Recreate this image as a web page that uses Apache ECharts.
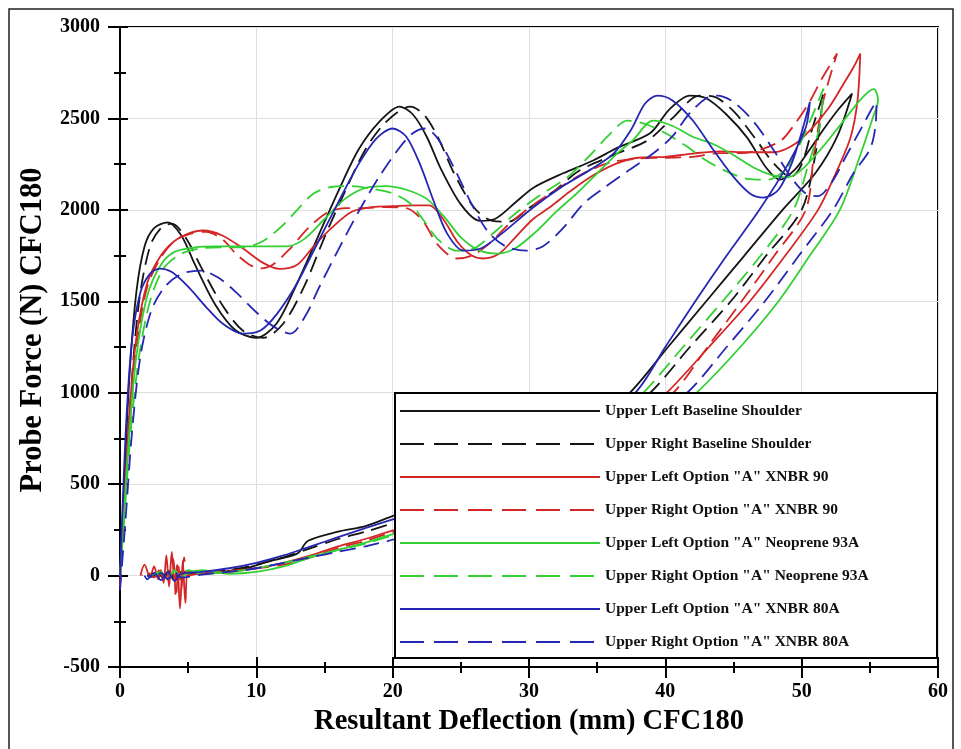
<!DOCTYPE html>
<html><head><meta charset="utf-8">
<script src="https://cdn.jsdelivr.net/npm/echarts@6/dist/echarts.min.js"></script>
<style>html,body{margin:0;padding:0;background:#fff}#c{width:961px;height:749px}</style>
</head><body><div id="c"></div>
<script>
// ---- data (deflection mm, force N) ----
const seriesNames = [
  'Upper Left Baseline Shoulder',
  'Upper Right Baseline Shoulder',
  'Upper Left Option "A" XNBR 90',
  'Upper Right Option "A" XNBR 90',
  'Upper Left Option "A" Neoprene 93A',
  'Upper Right Option "A" Neoprene 93A',
  'Upper Left Option "A" XNBR 80A',
  'Upper Right Option "A" XNBR 80A'
];
const xRange = [0, 60, 10];
const yRange = [-500, 3000, 500];

const ulBaseline = [[0,0],[0.3,500],[0.7,1100],[1.2,1550],[1.8,1800],[2.5,1900],[3.5,1932],[4.5,1860],[5.5,1700],[7,1480],[8.5,1340],[10,1300],[11.5,1380],[13,1600],[14.5,1850],[16,2100],[17.5,2330],[19,2480],[20.5,2565],[21.5,2520],[22.5,2400],[23.5,2230],[25,2030],[26.4,1940],[27.5,1950],[29,2040],[30.3,2120],[32.5,2200],[34.7,2270],[36.5,2340],[38.9,2420],[40.3,2550],[41.8,2625],[43,2610],[44.5,2520],[46,2395],[47.4,2230],[48.4,2165],[49.5,2220],[50.5,2320],[51.7,2450],[52.7,2550],[53.7,2636],[52.6,2400],[51,2200],[48.6,2000],[45.8,1750],[43,1500],[40.2,1250],[37.4,1000],[34,780],[30,600],[26,470],[23,390],[20.2,330],[18,270],[16,240],[13.8,190],[13,120],[11,80],[9.5,45],[8,25],[6,10],[4.5,20],[4,-10],[3.6,25],[3.2,-15],[2.8,10],[2.4,-5],[2,0]];

const urBaseline = [[0,0],[0.3,400],[0.8,1000],[1.4,1500],[2.2,1800],[3,1900],[3.8,1925],[4.8,1850],[6,1680],[7.5,1480],[9,1340],[10.5,1300],[12,1380],[13.5,1580],[15,1850],[16.5,2100],[18,2330],[19.5,2480],[21.3,2565],[22.3,2520],[23.3,2400],[24.5,2200],[26,2010],[27.3,1940],[28.5,1935],[30,2010],[31.8,2100],[33.7,2215],[36.2,2300],[38.7,2380],[40.5,2500],[42.5,2625],[43.5,2620],[45,2540],[46.5,2400],[48,2250],[49.2,2180],[50,2250],[50.8,2450],[51.6,2636],[51,2300],[50,2000],[47.4,1750],[44.8,1500],[41.8,1250],[38.9,1000],[35,760],[31,580],[27,450],[23.5,360],[20.2,290],[18,240],[16,200],[14,150],[12,100],[10,60],[8,30],[6,15],[4.5,5],[4,-20],[3.5,15],[3,-10],[2.5,10],[2,0]];

const ulXnbr90 = [[0,0],[0.3,400],[0.7,900],[1.2,1300],[2,1600],[3,1750],[4,1830],[5,1870],[6.1,1887],[7.5,1860],[9,1790],[10.5,1710],[11.7,1677],[13,1700],[14.2,1800],[15.5,1900],[17,1990],[18.5,2015],[20,2020],[21.5,2025],[22.7,2024],[23.7,1950],[24.8,1820],[25.8,1750],[26.6,1734],[27.8,1760],[29,1850],[30.3,1950],[31.5,2013],[33,2100],[34.5,2180],[36.4,2253],[38,2285],[40,2290],[42,2308],[44,2320],[46,2315],[48,2315],[49.5,2360],[50.8,2450],[52,2560],[53,2680],[53.8,2780],[54.3,2855],[54.1,2600],[53.6,2400],[52.5,2200],[51.2,2000],[48.8,1750],[46.2,1500],[43.2,1250],[40.1,1000],[36,740],[32,560],[28,420],[24,310],[20.2,250],[18,200],[16,160],[14,110],[12,70],[10,40],[8,20],[6,10],[5,20],[4.8,-150],[4.6,80],[4.4,-180],[4.2,60],[4,-30],[3.8,130],[3.6,-60],[3.4,110],[3.2,-40],[3,30],[2.8,-20],[2.5,50],[2.2,-10],[1.8,60],[1.5,0]];

const urXnbr90 = [[0,-60],[0.3,350],[0.8,900],[1.3,1300],[2,1580],[3,1740],[4,1830],[5.2,1870],[6.3,1880],[7.5,1840],[8.5,1760],[9.5,1700],[10.3,1680],[11.2,1700],[12.5,1790],[13.8,1900],[15.2,1985],[16.5,2010],[18,2010],[19.5,2015],[21,2010],[22.2,1941],[23.3,1810],[24.7,1734],[25.8,1750],[27,1810],[28.5,1920],[30,2010],[32,2110],[34,2200],[36,2260],[38,2280],[40,2285],[42,2290],[44,2310],[45.5,2310],[47,2330],[48.5,2380],[49.5,2470],[50.5,2580],[51.5,2720],[52.6,2855],[51.6,2600],[50.9,2300],[50.3,2000],[48,1750],[45.6,1500],[43.1,1250],[40.6,1000],[36.5,730],[32.5,550],[28.5,410],[24.5,300],[20.2,240],[18,190],[16,150],[14,100],[12,60],[10,40],[8,25],[6,15],[5,0],[4.7,100],[4.5,-80],[4.3,50],[4.1,-120],[3.9,90],[3.5,-20],[3,40],[2.5,-10],[2,20],[1.6,0]];

const ulNeoprene = [[0,0],[0.3,350],[0.7,800],[1.2,1200],[2,1530],[3,1700],[4,1770],[5.5,1795],[7,1800],[9,1800],[10.5,1800],[12.2,1800],[13.5,1840],[15,1950],[16.5,2060],[18,2120],[19.5,2130],[21,2110],[22.5,2060],[23.8,1960],[25,1850],[26.3,1780],[27.7,1761],[29,1790],[30.5,1880],[32,1990],[33.5,2090],[35,2200],[36.5,2310],[37.6,2379],[39.1,2488],[40.5,2460],[42,2400],[43.5,2360],[45,2300],[46.5,2230],[47.8,2190],[48.9,2177],[50,2220],[51.5,2340],[53,2480],[54.4,2610],[55.3,2660],[55.6,2600],[55.2,2500],[54.3,2300],[52.8,2000],[50.6,1750],[48.3,1500],[45.5,1250],[42.3,1000],[38,720],[34,540],[30,400],[25,290],[20.2,230],[18,180],[16,140],[14,100],[12,50],[10,20],[8,10],[6,30],[5,15],[4.5,-10],[4,30],[3.5,-20],[3,20],[2.5,10],[2.2,0]];

const urNeoprene = [[0,0],[0.3,300],[0.8,800],[1.4,1200],[2.2,1500],[3.2,1680],[4.5,1760],[6,1790],[7.5,1795],[9,1795],[10.5,1830],[12,1920],[13,2000],[14.2,2089],[15.5,2125],[17,2130],[18.5,2115],[20,2090],[21.2,2040],[22.2,1950],[23.3,1840],[24.7,1777],[26,1790],[27.5,1880],[29,1980],[30.8,2080],[32.8,2177],[34.5,2300],[36,2420],[37.2,2488],[38.5,2470],[40,2420],[41.5,2350],[43,2270],[44.5,2210],[46,2170],[47.5,2165],[48.8,2220],[49.8,2350],[50.7,2500],[51.6,2663],[51.3,2450],[50.5,2250],[49.4,2000],[47,1750],[44.2,1500],[41.3,1250],[38.4,1000],[35,760],[31,560],[27,420],[23.5,300],[20.2,225],[18,175],[16,140],[14,105],[12,70],[10,40],[8,20],[6,10],[5,30],[4.5,-10],[4,25],[3.5,-15],[3,15],[2.6,0]];

const ulXnbr80 = [[0,0],[0.2,400],[0.5,900],[0.9,1300],[1.5,1550],[2.2,1650],[2.9,1679],[3.8,1660],[5,1580],[6.3,1470],[7.5,1380],[9,1323],[10.3,1340],[11.5,1430],[13,1600],[14.5,1820],[16,2040],[17.5,2250],[18.8,2390],[20,2445],[21,2400],[22,2250],[23,2050],[24,1870],[25.2,1777],[26.5,1790],[28,1870],[30.3,2013],[32.5,2130],[34.5,2220],[36.2,2308],[37.5,2440],[38.5,2580],[39.4,2625],[40.5,2600],[42,2490],[43.5,2330],[45,2180],[46.2,2090],[47.2,2067],[48.3,2110],[49.3,2260],[50.1,2450],[50.6,2590],[50.3,2450],[49,2250],[46.9,2000],[44.5,1750],[42.2,1500],[40,1250],[37.8,1000],[34,790],[30,610],[26,460],[23,370],[20.2,312],[18,260],[16,210],[14,160],[12,110],[10,70],[8,40],[6,20],[4.5,10],[4,-30],[3.5,20],[3,-25],[2.5,15],[2,-20],[1.8,0]];

const urXnbr80 = [[0,-80],[0.4,300],[0.9,800],[1.5,1200],[2.3,1450],[3.3,1580],[4.5,1650],[5.9,1668],[7.2,1630],[8.5,1550],[10,1440],[11.3,1360],[12.5,1323],[13.7,1433],[14.5,1560],[16,1780],[17.5,1990],[19,2180],[20.5,2340],[21.5,2420],[22.4,2445],[23.3,2390],[24.5,2230],[25.8,2030],[27,1880],[28.3,1800],[29.8,1777],[31,1800],[32.5,1900],[34,2034],[35.5,2120],[37.2,2210],[39.1,2308],[40.5,2400],[41.8,2530],[43,2610],[43.8,2625],[45,2590],[46.5,2480],[48,2320],[49.3,2170],[50.3,2090],[51.2,2075],[52.2,2150],[53.3,2300],[54.4,2450],[55.2,2560],[55.5,2590],[55.4,2450],[55,2330],[53.8,2200],[52.3,2000],[49.8,1750],[47.3,1500],[44.5,1250],[41.6,1000],[37,740],[33,560],[28,400],[24,290],[20.2,200],[18,160],[16,130],[14,100],[12,70],[10,40],[8,20],[6,5],[4.5,-10],[4,20],[3.5,-20],[3,15],[2.5,-10],[2,0]];

const seriesData = [ulBaseline, urBaseline, ulXnbr90, urXnbr90, ulNeoprene, urNeoprene, ulXnbr80, urXnbr80];

// ---- styling ----
const FONT = '"Liberation Serif","Times New Roman",serif';
const colors = ['#151515','#151515','#d42626','#d42626','#33d033','#33d033','#2626b4','#2626b4'];
const dashedFlags = [false,true,false,true,false,true,false,true];
const plotDash = [16, 8];
const legendDash = [24, 10];

const chart = echarts.init(document.getElementById('c'), null, {renderer:'canvas'});

const tickStyle = {color:'#000', width:2};
const plainNum = v => String(v);
function mainX() {
  return {
    type:'value', min:xRange[0], max:xRange[1], interval:xRange[2], position:'bottom',
    axisLine:{show:true, onZero:false, lineStyle:{color:'#000', width:2}},
    axisTick:{show:true, length:11, lineStyle:tickStyle},
    minorTick:{show:true, splitNumber:2, length:6, lineStyle:tickStyle},
    splitLine:{show:true, lineStyle:{color:'#dedede', width:1}},
    axisLabel:{color:'#000', fontFamily:FONT, fontWeight:'bold', fontSize:20, margin:15, formatter:plainNum},
    name:'Resultant Deflection (mm) CFC180', nameLocation:'middle', nameGap:32,
    nameTextStyle:{color:'#000', fontFamily:FONT, fontWeight:'bold', fontSize:28.5}
  };
}
function innerX() {
  return {
    type:'value', min:xRange[0], max:xRange[1], interval:xRange[2], position:'bottom',
    axisLine:{show:false, onZero:false},
    axisTick:{show:true, inside:true, length:10, lineStyle:tickStyle},
    minorTick:{show:true, splitNumber:2, length:5, lineStyle:tickStyle},
    splitLine:{show:false}, axisLabel:{show:false}
  };
}
function mainY() {
  return {
    type:'value', min:yRange[0], max:yRange[1], interval:yRange[2], position:'left',
    axisLine:{show:true, onZero:false, lineStyle:{color:'#000', width:2}},
    axisTick:{show:true, length:12, lineStyle:tickStyle},
    minorTick:{show:true, splitNumber:2, length:6, lineStyle:tickStyle},
    splitLine:{show:true, lineStyle:{color:'#dedede', width:1}},
    axisLabel:{color:'#000', fontFamily:FONT, fontWeight:'bold', fontSize:20, margin:20, formatter:plainNum},
    name:'Probe Force (N) CFC180', nameLocation:'middle', nameGap:60,
    nameTextStyle:{color:'#000', fontFamily:FONT, fontWeight:'bold', fontSize:30.5, padding:[0,0,0,34]}
  };
}
function innerY() {
  return {
    type:'value', min:yRange[0], max:yRange[1], interval:yRange[2], position:'left',
    axisLine:{show:false, onZero:false},
    axisTick:{show:true, inside:true, length:8, lineStyle:tickStyle},
    minorTick:{show:true, splitNumber:2, length:6, lineStyle:tickStyle},
    splitLine:{show:false}, axisLabel:{show:false}
  };
}

const option = {
  backgroundColor:'#fff',
  animation:false,
  grid:{left:120, right:23, top:27, bottom:82, show:true, borderColor:'#000', borderWidth:2, backgroundColor:'rgba(0,0,0,0)'},
  xAxis:[mainX(), innerX()],
  yAxis:[mainY(), innerY()],
  graphic:[
    {type:'rect', z:0, silent:true, shape:{x:9, y:9, width:944, height:745}, style:{fill:null, stroke:'#222', lineWidth:1.5}},
    {type:'rect', z:20, silent:true, shape:{x:395, y:393, width:542, height:265}, style:{fill:'#fff', stroke:'#000', lineWidth:2}}
  ],
  legend:{
    orient:'vertical', left:395, top:393, padding:[10,4,10,4], z:30,
    itemWidth:200, itemHeight:14, itemGap:17,
    selectedMode:false,
    itemStyle:{opacity:0},
    textStyle:{color:'#111', fontFamily:FONT, fontWeight:'bold', fontSize:15.5},
    data: seriesNames.map((n,i)=>({name:n, lineStyle:{type: dashedFlags[i] ? legendDash : 'solid', width:2}}))
  },
  series: seriesNames.map((n,i)=>({
    name:n, type:'line', xAxisIndex:0, yAxisIndex:0,
    data: seriesData[i], symbol:'none', smooth:0.3, z:2,
    color: colors[i],
    lineStyle:{color:colors[i], width:1.8, type: dashedFlags[i] ? plotDash : 'solid'}
  }))
};
chart.setOption(option);
</script>
</body></html>
